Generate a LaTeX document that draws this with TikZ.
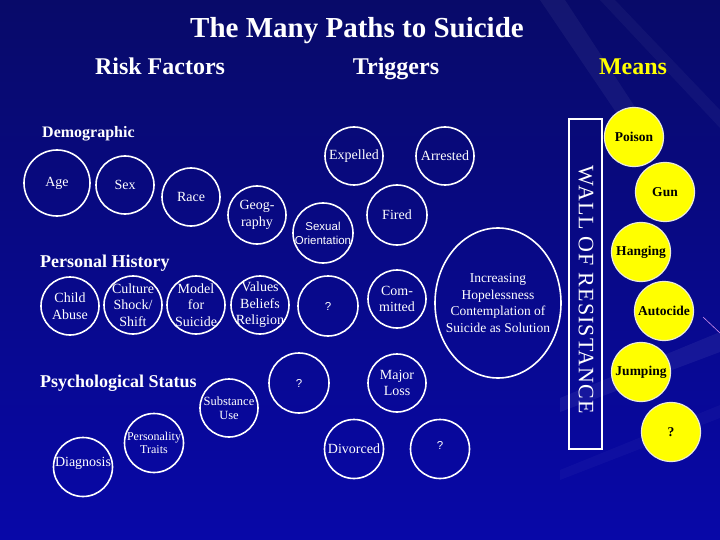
\documentclass[tikz,border=0pt]{standalone}
\usepackage{fontspec}
\setmainfont{Liberation Serif}
\setsansfont{Liberation Sans}
\usetikzlibrary{shapes.geometric}
\definecolor{SlideTop}{RGB}{8,10,105}
\definecolor{SlideBot}{RGB}{8,8,168}
\definecolor{MeansClr}{RGB}{255,255,0}
\definecolor{RimClr}{RGB}{235,235,215}
\definecolor{StreakClr}{RGB}{205,140,235}

\tikzset{
  bubble/.style={circle,draw=white,line width=1.6pt,minimum size=58pt,inner sep=0pt},
  btxt/.style={text=white,align=center,inner sep=0pt,font=\fontsize{14}{16.5}\selectfont},
  smalltxt/.style={btxt,font=\fontsize{12.5}{13.5}\selectfont},
  qtxt/.style={btxt,font=\sffamily\fontsize{11.5}{14}\selectfont},
  means/.style={circle,fill=MeansClr,draw=RimClr,line width=1.2pt,minimum size=59pt,inner sep=0pt,
    text=black,font=\bfseries\fontsize{13.5}{15}\selectfont},
  colhead/.style={text=white,anchor=base,inner sep=0pt,font=\bfseries\fontsize{24}{28}\selectfont},
  grouphead/.style={text=white,anchor=base west,inner sep=0pt,font=\bfseries\fontsize{18}{21}\selectfont},
}

\begin{document}
\begin{tikzpicture}[x=1pt,y=-1pt]
\shade[top color=SlideTop,bottom color=SlideBot] (0,0) rectangle (720,540);
\useasboundingbox (0,0) rectangle (720,540);

\fill[white,opacity=.05] (540,0) -- (565,0) -- (650,130) -- (628,130) -- cycle;
\fill[white,opacity=.04] (600,0) -- (615,0) -- (720,110) -- (720,128) -- cycle;
\fill[white,opacity=.06] (560,398) -- (720,332) -- (720,352) -- (560,412) -- cycle;
\fill[white,opacity=.03] (560,470) -- (720,405) -- (720,418) -- (560,480) -- cycle;
\draw[StreakClr,line width=.6pt] (703,317) -- (720,333);

\node[colhead,font=\bfseries\fontsize{29}{34}\selectfont] (title) at (357,37.5) {The Many Paths to Suicide};
\node[colhead] (risk) at (160,75) {Risk Factors};
\node[colhead] (trig) at (396,75) {Triggers};
\node[colhead,text=MeansClr] (meanshead) at (633,75) {Means};

\node[grouphead,font=\bfseries\fontsize{16}{19}\selectfont] (demo) at (42,138) {Demographic};
\node[grouphead] (hist) at (40,267) {Personal History};
\node[grouphead] (psych) at (40,387) {Psychological Status};

\node[bubble,minimum size=66pt,label={[btxt]center:Age}] (age) at (57,183) {};
\node[bubble,label={[btxt]center:Sex}] (sex) at (125,185) {};
\node[bubble,label={[btxt]center:Race}] (race) at (191,197) {};
\node[bubble,label={[btxt]center:Geog-\\raphy}] (geo) at (257,215) {};
\node[bubble,minimum size=60pt,label={[qtxt]center:Sexual\\Orientation}] (sexor) at (323,233) {};
\node[bubble,label={[btxt]center:Expelled}] (expel) at (354,156) {};
\node[bubble,label={[btxt]center:Arrested}] (arrest) at (445,156) {};
\node[bubble,minimum size=60pt,label={[btxt]center:Fired}] (fired) at (397,215) {};

\node[bubble,label={[btxt]center:Child\\Abuse}] (abuse) at (70,306) {};
\node[bubble,label={[btxt]center:Culture\\Shock/\\Shift}] (shock) at (133,305) {};
\node[bubble,label={[btxt]center:Model\\for\\Suicide}] (model) at (196,305) {};
\node[bubble,label={[btxt]center:Values\\Beliefs\\Religion}] (values) at (260,305) {};
\node[bubble,minimum size=60pt,label={[qtxt]center:?}] (qa) at (328,306) {};
\node[bubble,label={[btxt]center:Com-\\mitted}] (commit) at (397,299) {};
\node[ellipse,draw=white,line width=1.6pt,minimum width=126pt,minimum height=150pt,inner sep=0pt,
  label={[btxt,font=\fontsize{13.5}{16.7}\selectfont]center:Increasing\\Hopelessness\\Contemplation of\\Suicide as Solution}] (hope) at (498,303) {};

\node[bubble,minimum size=60pt,label={[qtxt]center:?}] (qb) at (299,383) {};
\node[bubble,label={[btxt]center:Major\\Loss}] (loss) at (397,383) {};
\node[bubble,label={[smalltxt]center:Substance\\Use}] (subst) at (229,408) {};
\node[bubble,minimum size=59pt,label={[smalltxt,font=\fontsize{12}{13.3}\selectfont]center:Personality\\Traits}] (trait) at (154,443) {};
\node[bubble,minimum size=59pt,label={[btxt,yshift=4pt]center:Diagnosis}] (diag) at (83,467) {};
\node[bubble,minimum size=59pt,label={[btxt]center:Divorced}] (divorce) at (354,449) {};
\node[bubble,minimum size=59pt,label={[qtxt,yshift=4pt]center:?}] (qc) at (440,449) {};

\node[draw=white,line width=1.6pt,minimum width=33pt,minimum height=330pt,inner sep=0pt] (wall) at (585.5,284) {};
\node[text=white,rotate=-90,inner sep=0pt,font=\fontsize{22}{26}\selectfont\addfontfeature{LetterSpace=5}] (walltxt) at (586,290) {WALL OF RESISTANCE};

\node[means] (poison) at (634,137) {Poison};
\node[means] (gun) at (665,192) {Gun};
\node[means] (hang) at (641,252) {Hanging};
\node[means] (auto) at (664,311) {Autocide};
\node[means] (jump) at (641,372) {Jumping};
\node[means] (qd) at (671,432) {?};

\end{tikzpicture}
\end{document}
